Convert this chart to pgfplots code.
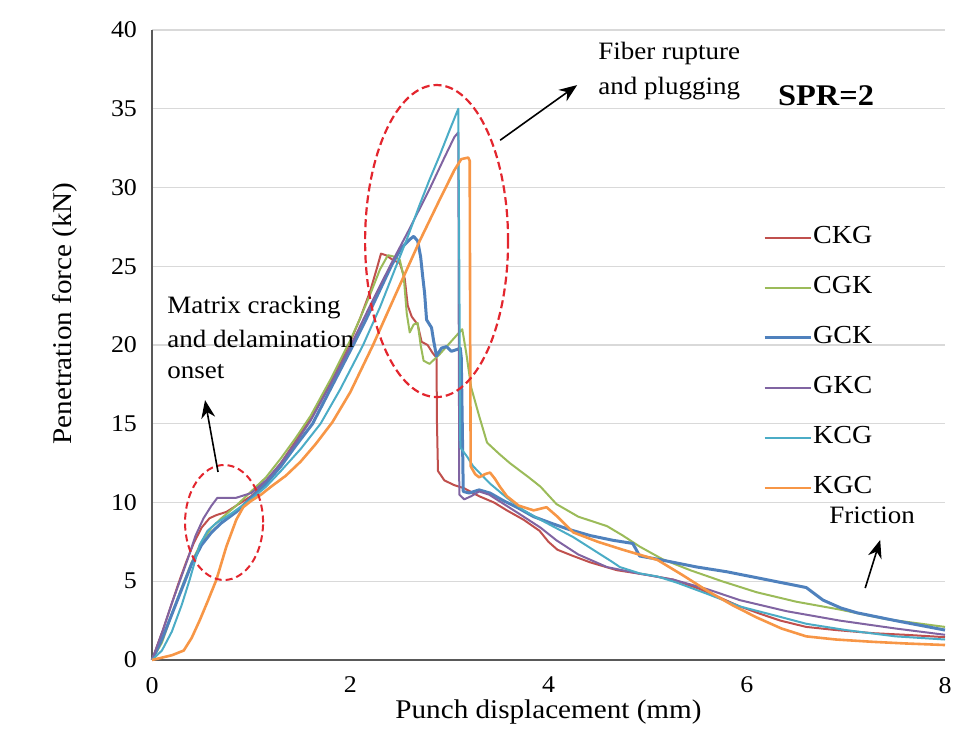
\documentclass[border=0pt]{standalone}
\usepackage{fontspec}
\setmainfont{Liberation Serif}[FakeStretch=1.08]
\usepackage{pgfplots}
\pgfplotsset{compat=1.18}
\usetikzlibrary{arrows.meta}
\definecolor{cCKG}{HTML}{C0504D}
\definecolor{cCGK}{HTML}{9BBB59}
\definecolor{cGCK}{HTML}{4F81BD}
\definecolor{cGKC}{HTML}{8064A2}
\definecolor{cKCG}{HTML}{4BACC6}
\definecolor{cKGC}{HTML}{F79646}
\definecolor{gridc}{HTML}{D9D9D9}
\definecolor{axc}{HTML}{595959}
\definecolor{ellc}{HTML}{E3262E}
\begin{document}
\begin{tikzpicture}
\begin{axis}[
  name=ax,
  scale only axis,
  width=396.5pt, height=315pt,
  xmin=0, xmax=8, ymin=0, ymax=40,
  xtick={0,2,4,6,8}, ytick={0,5,...,40},
  axis x line=bottom, axis y line=left,
  axis line style={-, draw=axc, line width=1pt},
  major tick length=0pt,
  ymajorgrids, grid style={gridc, line width=0.6pt},
  /pgf/number format/assume math mode=true,
  tick label style={font=\fontsize{12}{14}\selectfont, black},
  xticklabel style={yshift=-5pt},
  yticklabel style={xshift=-4pt},
  every axis x label/.style={at={(axis description cs:0.5,-0.083)},anchor=center},
  every axis y label/.style={at={(axis description cs:-0.11,0.55)},rotate=90,anchor=center},
  label style={font=\fontsize{13.5}{16}\selectfont},
  xlabel={Punch displacement (mm)},
  ylabel={Penetration force (kN)},
  clip=false,
  legend cell align=left,
  legend style={draw=none, fill=none, at={(axis cs:6.1,27.9)}, anchor=north west,
    font=\fontsize{13}{15}\selectfont, row sep=12pt,
    nodes={inner sep=0.5pt, text height=9pt, text depth=3pt}},
  legend image code/.code={\draw[#1] (0pt,0pt) -- (23pt,0pt);},
  every axis plot/.append style={line width=1pt, line join=round},
]
\addplot[cCKG] coordinates {(0,0) (0.11,1.9) (0.2,3.6) (0.28,5.1) (0.35,6.3) (0.42,7.4) (0.5,8.4) (0.58,9.0) (0.65,9.2) (0.75,9.4) (0.85,9.8) (1.0,10.4) (1.15,11.3) (1.3,12.5) (1.45,13.9) (1.56,15.0) (1.7,16.5) (1.85,18.2) (2.0,20.2) (2.1,21.7) (2.2,23.4) (2.27,24.9) (2.31,25.8) (2.36,25.7) (2.43,25.4) (2.5,25.2) (2.55,24.2) (2.58,22.5) (2.62,21.8) (2.68,21.3) (2.72,20.2) (2.78,20.0) (2.83,19.5) (2.87,19.2) (2.875,15) (2.885,12.0) (2.95,11.4) (3.05,11.1) (3.15,10.9) (3.3,10.4) (3.45,10.0) (3.58,9.5) (3.75,8.9) (3.91,8.2) (4.0,7.5) (4.09,7.0) (4.25,6.6) (4.42,6.2) (4.69,5.7) (5.0,5.4) (5.26,5.1) (5.53,4.5) (5.75,3.9) (5.93,3.4) (6.15,2.9) (6.34,2.5) (6.6,2.1) (6.9,1.9) (7.28,1.7) (7.6,1.6) (8.0,1.45)};
\addlegendentry{CKG}
\addplot[cCGK] coordinates {(0,0) (0.1,1.1) (0.2,2.9) (0.3,4.6) (0.4,6.2) (0.5,7.5) (0.6,8.4) (0.7,9.0) (0.85,9.8) (1.0,10.7) (1.15,11.6) (1.3,12.8) (1.45,14.1) (1.6,15.5) (1.8,17.8) (2.0,20.3) (2.1,21.7) (2.2,23.2) (2.3,24.8) (2.38,25.7) (2.45,25.6) (2.5,25.4) (2.54,24.3) (2.57,22) (2.6,20.8) (2.64,21.3) (2.68,21.4) (2.71,20) (2.74,19.0) (2.8,18.8) (2.9,19.4) (3.0,20.1) (3.1,20.8) (3.13,21.0) (3.17,19.5) (3.22,17.3) (3.3,15.5) (3.38,13.8) (3.5,13.1) (3.61,12.5) (3.8,11.6) (3.92,11.0) (4.08,9.9) (4.3,9.1) (4.59,8.5) (4.75,7.9) (4.92,7.2) (5.15,6.4) (5.43,5.7) (5.75,5.0) (6.1,4.3) (6.5,3.7) (6.94,3.2) (7.4,2.6) (8.0,2.1)};
\addlegendentry{CGK}
\addplot[cGCK, line width=1.5pt] coordinates {(0,0) (0.1,1.3) (0.2,2.9) (0.3,4.5) (0.4,6.1) (0.5,7.3) (0.6,8.1) (0.7,8.7) (0.85,9.4) (1.0,10.3) (1.15,11.2) (1.3,12.3) (1.45,13.6) (1.62,15.0) (1.8,17.2) (2.03,20.0) (2.15,21.5) (2.3,23.5) (2.42,25.1) (2.52,26.2) (2.6,26.7) (2.64,26.9) (2.68,26.6) (2.71,25.6) (2.73,24.4) (2.75,23.3) (2.77,21.6) (2.8,21.3) (2.82,21.1) (2.84,20.3) (2.87,19.3) (2.92,19.8) (2.97,19.9) (3.02,19.6) (3.07,19.7) (3.11,19.8) (3.12,19.2) (3.13,15) (3.14,10.7) (3.2,10.6) (3.3,10.8) (3.41,10.6) (3.55,10.1) (3.68,9.7) (3.85,9.1) (4.02,8.7) (4.2,8.3) (4.42,7.9) (4.65,7.6) (4.85,7.4) (4.92,6.6) (5.1,6.4) (5.26,6.2) (5.5,5.9) (5.8,5.6) (6.2,5.1) (6.6,4.6) (6.77,3.8) (6.95,3.3) (7.11,3.0) (7.5,2.5) (8.0,1.9)};
\addlegendentry{GCK}
\addplot[cGKC] coordinates {(0,0) (0.11,1.9) (0.2,3.6) (0.28,5.0) (0.36,6.4) (0.44,7.9) (0.52,9.0) (0.6,9.8) (0.66,10.3) (0.75,10.3) (0.85,10.3) (1.0,10.6) (1.15,11.4) (1.3,12.5) (1.45,13.8) (1.6,15.2) (1.8,17.5) (2.0,19.9) (2.2,22.5) (2.4,25.0) (2.6,27.4) (2.8,29.9) (2.95,31.9) (3.05,33.2) (3.09,33.5) (3.095,20) (3.10,10.5) (3.15,10.2) (3.22,10.4) (3.3,10.7) (3.4,10.5) (3.5,10.1) (3.7,9.3) (3.92,8.4) (4.08,7.6) (4.3,6.7) (4.59,5.9) (4.9,5.5) (5.26,5.1) (5.6,4.5) (5.93,3.8) (6.4,3.1) (6.94,2.5) (7.5,2.0) (8.0,1.6)};
\addlegendentry{GKC}
\addplot[cKCG] coordinates {(0,0) (0.1,0.6) (0.2,1.8) (0.3,3.5) (0.38,5.1) (0.48,7.3) (0.56,8.2) (0.65,8.7) (0.8,9.3) (1.0,10.2) (1.15,11.0) (1.3,12.0) (1.5,13.4) (1.7,15.0) (1.9,17.2) (2.13,20.0) (2.3,22.4) (2.45,24.8) (2.57,26.7) (2.7,28.9) (2.8,30.5) (2.9,32.0) (3.0,33.6) (3.09,35.0) (3.10,25) (3.11,13.5) (3.18,12.9) (3.24,12.3) (3.41,11.2) (3.58,10.3) (3.75,9.5) (3.92,8.9) (4.1,8.3) (4.25,7.8) (4.45,7.0) (4.65,6.2) (4.72,5.9) (4.92,5.5) (5.1,5.3) (5.3,4.9) (5.6,4.2) (5.93,3.4) (6.3,2.8) (6.6,2.3) (7.0,1.9) (7.5,1.5) (8.0,1.3)};
\addlegendentry{KCG}
\addplot[cKGC, line width=1.3pt] coordinates {(0,0) (0.1,0.15) (0.2,0.3) (0.32,0.6) (0.4,1.4) (0.48,2.5) (0.56,3.7) (0.65,5.1) (0.75,7.2) (0.85,8.9) (0.92,9.7) (1.0,10.1) (1.1,10.5) (1.2,11.0) (1.35,11.7) (1.5,12.6) (1.65,13.7) (1.82,15.1) (2.0,17.0) (2.23,20.0) (2.45,23.1) (2.7,26.6) (2.9,29.2) (3.05,31.1) (3.12,31.8) (3.19,31.9) (3.205,31.7) (3.21,20) (3.215,12.3) (3.26,11.8) (3.3,11.6) (3.36,11.8) (3.41,11.9) (3.46,11.5) (3.51,11.0) (3.58,10.4) (3.7,9.8) (3.85,9.5) (3.98,9.7) (4.09,9.1) (4.25,8.1) (4.5,7.5) (4.75,7.0) (5.1,6.35) (5.35,5.4) (5.6,4.4) (5.85,3.5) (6.1,2.7) (6.35,2.0) (6.6,1.5) (6.9,1.3) (7.28,1.15) (7.6,1.05) (8.0,0.95)};
\addlegendentry{KGC}
% annotations
\draw[ellc, line width=1.1pt, dash pattern=on 4pt off 2pt] (axis cs:2.871,26.6) ellipse [x radius=35.75pt, y radius=78pt];
\draw[ellc, line width=1pt, dash pattern=on 3.5pt off 2pt] (axis cs:0.727,8.73) ellipse [x radius=19.5pt, y radius=28.75pt];
\draw[black, line width=0.8pt, -{Stealth[length=9pt,width=7pt]}] (axis cs:3.512,33.0) -- (axis cs:4.289,36.5);
\draw[black, line width=0.8pt, -{Stealth[length=9pt,width=7pt]}] (axis cs:0.666,11.94) -- (axis cs:0.535,16.5);
\draw[black, line width=0.8pt, -{Stealth[length=9pt,width=7pt]}] (axis cs:7.195,4.57) -- (axis cs:7.346,7.62);
\node[anchor=west, inner sep=0pt, font=\fontsize{12.5}{15}\selectfont] at (axis cs:4.50,38.5) {Fiber rupture};
\node[anchor=west, inner sep=0pt, font=\fontsize{12.5}{15}\selectfont] at (axis cs:4.50,36.3) {and plugging};
\node[anchor=west, inner sep=0pt, font=\fontsize{12.5}{15}\selectfont] at (axis cs:0.151,22.4) {Matrix cracking};
\node[anchor=west, inner sep=0pt, font=\fontsize{12.5}{15}\selectfont] at (axis cs:0.151,20.4) {and delamination};
\node[anchor=west, inner sep=0pt, font=\fontsize{12.5}{15}\selectfont] at (axis cs:0.151,18.3) {onset};
\node[inner sep=0pt, font=\fontsize{12.5}{15}\selectfont] at (axis cs:7.265,9.2) {Friction};
\node[inner sep=0pt, font=\bfseries\fontsize{15}{18}\selectfont] at (axis cs:6.80,35.8) {SPR=2};
\end{axis}
\pgfresetboundingbox
\path[use as bounding box] ([xshift=-76pt,yshift=-34.5pt]ax.south west) rectangle ([xshift=10pt,yshift=15pt]ax.north east);
\end{tikzpicture}
\end{document}
